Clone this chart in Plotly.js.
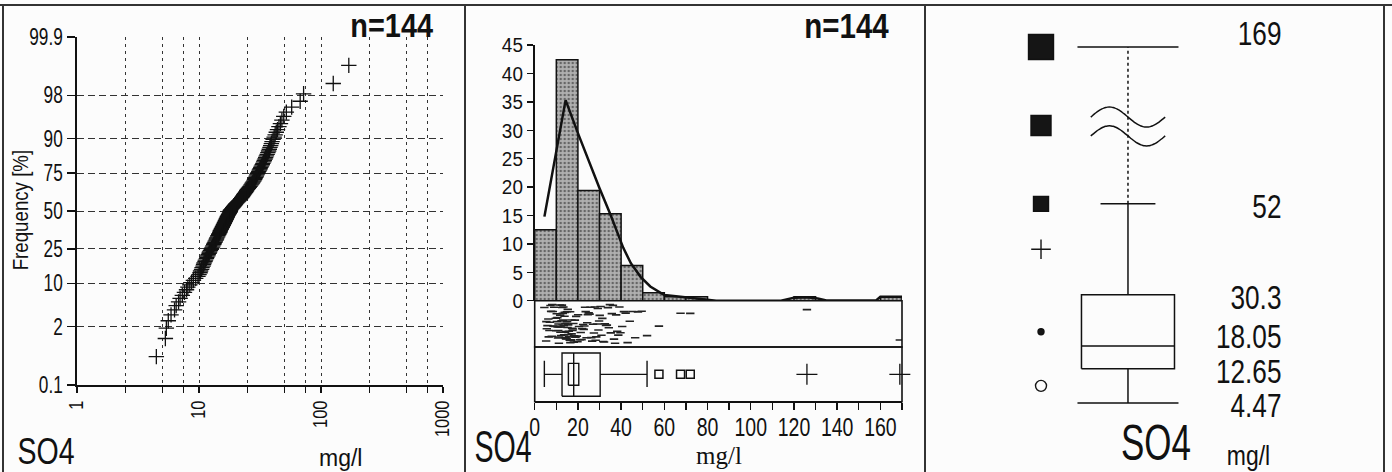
<!DOCTYPE html>
<html><head><meta charset="utf-8">
<script src="https://cdn.plot.ly/plotly-3.0.1.min.js"></script>
<style>html,body{margin:0;padding:0;background:#fcfcfc;}#chart{width:1392px;height:472px;}</style>
</head><body><div id="chart"></div>
<script>
// ---------------- DATA ----------------
// SO4 sample values (mg/l), sorted, n = 144
const so4Values = [
 4.47, 5.3, 5.4, 5.6, 5.9, 6.3, 6.5, 6.8, 7.0, 7.3, 7.6, 7.9, 8.1, 8.4, 8.7, 9.0, 9.4, 9.8,
 10.0, 10.2, 10.3, 10.5, 10.6, 10.8, 10.9, 11.0, 11.2, 11.3, 11.5, 11.6, 11.8, 11.9, 12.1, 12.2, 12.4, 12.6,
 12.7, 12.9, 13.0, 13.2, 13.3, 13.5, 13.6, 13.8, 13.9, 14.0, 14.2, 14.3, 14.5, 14.6, 14.8, 14.9, 15.0, 15.2,
 15.3, 15.5, 15.6, 15.8, 15.9, 16.1, 16.2, 16.4, 16.5, 16.7, 16.8, 17.0, 17.1, 17.3, 17.5, 17.7, 17.9, 18.0,
 18.1, 18.3, 18.6, 18.9, 19.2, 19.5, 19.8,
 20.1, 20.5, 20.9, 21.3, 21.7, 22.0, 22.4, 22.7, 23.0, 23.3, 23.6, 24.0, 24.3, 24.6, 25.0, 25.4, 25.8, 26.2,
 26.6, 27.0, 27.4, 27.8, 28.2, 28.5, 28.8, 29.2, 29.5, 29.8,
 30.1, 30.5, 30.9, 31.3, 31.7, 32.1, 32.5, 33.0, 33.4, 33.9, 34.3, 34.8, 35.2, 35.7, 36.2, 36.7, 37.2, 37.7,
 38.2, 38.7, 39.2, 39.7,
 40.5, 41.3, 42.1, 43.0, 44.0, 45.2, 46.5, 47.8, 49.5,
 52.0, 57.5, 67.5, 72.0, 126.0, 169.0
];
// histogram: bin starts (mg/l) and bar heights (%)
const histBinStart = [0, 10, 20, 30, 40, 50, 60, 70, 80, 90, 100, 110, 120, 130, 140, 150, 160];
const histBinWidth = 10;
const histPercent = [12.5, 42.4, 19.4, 15.3, 6.2, 1.4, 0.7, 0.7, 0, 0, 0, 0, 0.7, 0, 0, 0, 0.7];
// density curve
const densityX = [4.5, 14.3, 20, 25, 30, 35, 38, 41, 44.5, 49, 53.5, 60, 67.5, 75, 84, 90, 100, 114, 120, 126, 131, 135, 158, 160, 170];
const densityY = [14.8, 35.3, 29.5, 24.5, 19.8, 15.2, 12.4, 9.3, 6.6, 4.2, 2.5, 1.0, 0.7, 0.4, 0, 0, 0, 0, 0.5, 0.6, 0.4, 0.05, 0.05, 0.7, 0.7];
// box plot statistics
const statMin = 4.47, statQ1 = 12.65, statMedian = 18.05, statQ3 = 30.3, statUpperWhisker = 52, statMax = 169;
const statLabelValues = [169, 52, 30.3, 18.05, 12.65, 4.47];
const medianCI = [15.6, 20.4];
// axis ticks
const freqTicks = [0.1, 2, 10, 25, 50, 75, 90, 98, 99.9];
const logGrid = [1, 2.5, 5, 7.5, 10, 25, 50, 75, 100, 250, 500, 750, 1000];
const logLabels = ['1', '', '', '', '10', '', '', '', '100', '', '', '', '1000'];
const histXTicks = [0,10,20,30,40,50,60,70,80,90,100,110,120,130,140,150,160,170];
const histXLabels = ['0','','20','','40','','60','','80','','100','','120','','140','','160',''];

// ---------------- helpers ----------------
const W = 1392, H = 472;
const fx = px => px / W;
const fy = py => 1 - py / H;
const F = '"Liberation Sans", Arial, sans-serif';
const INK = '#111';

function probit(p) {
  const a = [-3.969683028665376e+01, 2.209460984245205e+02, -2.759285104469687e+02, 1.383577518672690e+02, -3.066479806614716e+01, 2.506628277459239e+00];
  const b = [-5.447609879822406e+01, 1.615858368580409e+02, -1.556989798598866e+02, 6.680131188771972e+01, -1.328068155922803e+01];
  const c = [-7.784894002430293e-03, -3.223964580411365e-01, -2.400758277161838e+00, -2.549732586814493e+00, 4.374664141464968e+00, 2.938163982698783e+00];
  const d = [7.784695709041462e-03, 3.224671290700398e-01, 2.445134137142996e+00, 3.754408661907416e+00];
  const pl = 0.02425;
  let q, r;
  if (p < pl) {
    q = Math.sqrt(-2 * Math.log(p));
    return (((((c[0]*q+c[1])*q+c[2])*q+c[3])*q+c[4])*q+c[5]) / ((((d[0]*q+d[1])*q+d[2])*q+d[3])*q+1);
  } else if (p <= 1 - pl) {
    q = p - 0.5; r = q * q;
    return (((((a[0]*r+a[1])*r+a[2])*r+a[3])*r+a[4])*r+a[5])*q / (((((b[0]*r+b[1])*r+b[2])*r+b[3])*r+b[4])*r+1);
  } else {
    q = Math.sqrt(-2 * Math.log(1 - p));
    return -(((((c[0]*q+c[1])*q+c[2])*q+c[3])*q+c[4])*q+c[5]) / ((((d[0]*q+d[1])*q+d[2])*q+d[3])*q+1);
  }
}
const n = so4Values.length;
// median-rank plotting positions (cumulative frequency %)
const cumFreq = so4Values.map((v, i) => (i + 1 - 0.3) / (n + 0.4) * 100);
const probY = cumFreq.map(f => probit(f / 100));
const zLo = probit(0.001), zHi = probit(0.999);

// broken axis for panel 3: values above the upper whisker are compressed
const BREAK_K = 0.32;
const disp = v => v <= statUpperWhisker ? v : statUpperWhisker + (v - statUpperWhisker) * BREAK_K;

const iqr = statQ3 - statQ1;
const nearOut = so4Values.filter(v => v > statUpperWhisker && v <= statQ3 + 3 * iqr);
const farOut = so4Values.filter(v => v > statQ3 + 3 * iqr);

// strip-plot vertical spread (deterministic hash, layout only)
const hash = i => { const v = Math.sin((i + 1) * 12.9898) * 43758.5453; return v - Math.floor(v); };
const stripY = so4Values.map((v, i) => 0.08 + 0.84 * hash(i));

const traces = [];
traces.push({type:'scatter', mode:'markers', x: so4Values, y: probY, xaxis:'x', yaxis:'y',
  marker:{symbol:'cross-thin-open', size:11, color:INK, opacity:1, line:{width:1.3, color:INK}}, hoverinfo:'skip'});

traces.push({type:'bar', x: histBinStart.map(s => s + histBinWidth / 2), y: histPercent, width: histBinWidth,
  xaxis:'x2', yaxis:'y2',
  marker:{color:'#a8a8a8', line:{color:INK, width:1.5},
    pattern:{shape:'.', fgcolor:'#666', bgcolor:'#b0b0b0', size:4, solidity:0.3}}, hoverinfo:'skip'});
traces.push({type:'scatter', mode:'lines', x: densityX, y: densityY, xaxis:'x2', yaxis:'y2',
  line:{color:INK, width:2.5}, hoverinfo:'skip'});
traces.push({type:'scatter', mode:'markers', x: so4Values, y: stripY, xaxis:'x2', yaxis:'y3',
  marker:{symbol:'line-ew', size:6, color:'#222', opacity:1, line:{width:1.6, color:'#222'}}, hoverinfo:'skip'});
const bLo = 0.10, bHi = 0.89, nLo = 0.30, nHi = 0.70, cLo = 0.27, cHi = 0.75, mid = 0.5;
traces.push({type:'scatter', mode:'lines', xaxis:'x2', yaxis:'y4', hoverinfo:'skip',
  line:{color:INK, width:1.4},
  x:[statQ1, statQ3, statQ3, statQ1, statQ1, null, statMedian, statMedian, null,
     medianCI[0], medianCI[1], medianCI[1], medianCI[0], medianCI[0], null,
     statMin, statQ1, null, statQ3, statUpperWhisker, null, statMin, statMin, null, statUpperWhisker, statUpperWhisker],
  y:[bLo, bLo, bHi, bHi, bLo, null, bLo, bHi, null,
     nLo, nLo, nHi, nHi, nLo, null,
     mid, mid, null, mid, mid, null, cLo, cHi, null, cLo, cHi]});
traces.push({type:'scatter', mode:'markers', x: nearOut, y: nearOut.map(() => mid), xaxis:'x2', yaxis:'y4',
  marker:{symbol:'square-open', size:8, color:INK, opacity:1, line:{width:1.5, color:INK}}, hoverinfo:'skip'});
traces.push({type:'scatter', mode:'markers', x: farOut, y: farOut.map(() => mid), xaxis:'x2', yaxis:'y4',
  marker:{symbol:'cross-thin-open', size:15, color:INK, opacity:1, line:{width:1.3, color:INK}}, hoverinfo:'skip', cliponaxis:false});

const capW = 1.086, capW52 = 0.59;
traces.push({type:'scatter', mode:'lines', xaxis:'x3', yaxis:'y5', hoverinfo:'skip',
  line:{color:INK, width:1.5},
  x:[-1, 1, 1, -1, -1, null, -1, 1, null, 0, 0, null, 0, 0, null, -capW, capW, null, -capW52, capW52, null, -capW, capW],
  y:[statQ1, statQ1, statQ3, statQ3, statQ1, null, statMedian, statMedian, null, statMin, statQ1, null,
     statQ3, statUpperWhisker, null, statMin, statMin, null, statUpperWhisker, statUpperWhisker, null, disp(statMax), disp(statMax)]});
traces.push({type:'scatter', mode:'lines', xaxis:'x3', yaxis:'y5', hoverinfo:'skip',
  line:{color:INK, width:1.5, dash:'3px,3px'},
  x:[0, 0], y:[disp(statUpperWhisker), disp(statMax)]});
const breakMid = disp((statUpperWhisker + statMax) / 2);
[2.0, -2.5].forEach(off => {
  const wx = [], wy = [];
  for (let k = 0; k <= 40; k++) { const t = k / 40; wx.push(-0.80 + 1.6 * t); wy.push(breakMid + off + 2.4 * Math.sin(2 * Math.PI * t)); }
  traces.push({type:'scatter', mode:'lines', x: wx, y: wy, xaxis:'x3', yaxis:'y5', hoverinfo:'skip',
    line:{color:INK, width:1.5, shape:'spline'}});
});
const symLevels = [disp(statMax), breakMid, disp(statUpperWhisker), (statQ3 + statUpperWhisker) / 2, (statQ1 + statQ3) / 2, (statMin + statQ1) / 2];
const symX = -1.87;
traces.push({type:'scatter', mode:'markers', xaxis:'x3', yaxis:'y5', hoverinfo:'skip', cliponaxis:false,
  x: symLevels.map(() => symX), y: symLevels,
  marker:{symbol:['square','square','square','cross-thin-open','circle','circle-open'],
    size:[25, 20, 15, 14, 6, 11], color:'#151515', opacity:1, line:{width:1.4, color:INK}}});
traces.push({type:'scatter', mode:'text', xaxis:'x3', yaxis:'y5', hoverinfo:'skip', cliponaxis:false,
  x: statLabelValues.map(() => 3.30), y: statLabelValues.map(disp),
  text: statLabelValues.map(String),
  textposition:['top left','middle left','middle left','top left','middle left','middle left'],
  textfont:{family:F, size:34, color:INK}});

const axisFont = s => ({family:F, size:s, color:INK});
const ann = (x, y, text, size, extra) => Object.assign({xref:'paper', yref:'paper', x:fx(x), y:fy(y), text, showarrow:false,
  xanchor:'center', yanchor:'middle', font:{family:F, size, color:INK}}, extra || {});
const layout = {
  width: W, height: H, margin:{l:0, r:0, t:0, b:0}, autosize:false,
  paper_bgcolor:'#fcfcfc', plot_bgcolor:'rgba(0,0,0,0)', showlegend:false,
  xaxis:{domain:[fx(77), fx(443)], type:'log', range:[0, 3], anchor:'y',
    tickmode:'array', tickvals: logGrid, ticktext: logLabels, tickangle:-90,
    ticks:'outside', ticklen:6, tickwidth:1.2, tickcolor:INK,
    showline:true, linecolor:INK, linewidth:1.6,
    showgrid:true, gridcolor:'#333', gridwidth:1, griddash:'3px,4px', zeroline:false,
    tickfont: axisFont(20), fixedrange:true},
  yaxis:{domain:[fy(385), fy(37)], range:[zLo, zHi], anchor:'x',
    tickmode:'array', tickvals: freqTicks.map(f => probit(f / 100)), ticktext: freqTicks.map(String),
    ticks:'outside', ticklen:8, tickwidth:1.2, tickcolor:INK,
    showline:true, linecolor:INK, linewidth:1.6,
    showgrid:true, gridcolor:'#333', gridwidth:1, griddash:'7px,4px', zeroline:false,
    tickfont: axisFont(23), fixedrange:true},
  xaxis2:{domain:[fx(534.7), fx(902)], range:[0, 170], anchor:'y4',
    tickmode:'array', tickvals: histXTicks, ticktext: histXLabels, tickangle:0,
    ticks:'outside', ticklen:7, tickwidth:1.4, tickcolor:INK,
    showline:true, linecolor:INK, linewidth:1.6, showgrid:false, zeroline:false,
    tickfont: axisFont(26), fixedrange:true},
  yaxis2:{domain:[fy(300.7), fy(45)], range:[0, 45], anchor:'x2', dtick:5, tick0:0,
    ticks:'outside', ticklen:6, tickwidth:1.4, tickcolor:INK,
    showline:true, linecolor:INK, linewidth:1.6, showgrid:false, zeroline:false,
    tickfont: axisFont(21), fixedrange:true},
  yaxis3:{domain:[fy(347), fy(300.7)], range:[0, 1], anchor:'x2', visible:false, fixedrange:true},
  yaxis4:{domain:[fy(401.7), fy(347)], range:[0, 1], anchor:'x2', visible:false, fixedrange:true},
  xaxis3:{domain:[fx(928), fx(1384)], range:[-4.30, 5.505], anchor:'y5', visible:false, fixedrange:true},
  yaxis5:{domain:[fy(420), fy(30)], range:[0.41, 93.5], anchor:'x3', visible:false, fixedrange:true},
  shapes:[
    {type:'line', xref:'paper', yref:'paper', x0:0, x1:1, y0:fy(5), y1:fy(5), line:{color:'#333', width:2}},
    {type:'line', xref:'paper', yref:'paper', x0:fx(3), x1:fx(3), y0:fy(5), y1:0, line:{color:'#333', width:2}},
    {type:'line', xref:'paper', yref:'paper', x0:fx(465), x1:fx(465), y0:fy(5), y1:0, line:{color:'#333', width:2}},
    {type:'line', xref:'paper', yref:'paper', x0:fx(925), x1:fx(925), y0:fy(5), y1:0, line:{color:'#333', width:2}},
    {type:'line', xref:'paper', yref:'paper', x0:fx(1384), x1:fx(1384), y0:fy(5), y1:0, line:{color:'#333', width:2}},
    {type:'rect', xref:'x2 domain', yref:'y3 domain', x0:0, x1:1, y0:0, y1:1, line:{color:INK, width:1.6}},
    {type:'rect', xref:'x2 domain', yref:'y4 domain', x0:0, x1:1, y0:0, y1:1, line:{color:INK, width:1.6}}
  ],
  annotations:[
    ann(391, 25, '<b>n=144</b>', 34),
    ann(846, 26, '<b>n=144</b>', 36),
    ann(21, 210, 'Frequency [%]', 22, {textangle:-90}),
    ann(46.5, 451, 'SO4', 37),
    ann(340, 458, 'mg/l', 23),
    ann(503, 446, 'SO4', 44),
    ann(719, 455, 'mg/l', 25, {font:{family:'"Liberation Serif", "Times New Roman", serif', size:25, color:INK}}),
    ann(1156, 443, 'SO4', 50),
    ann(1248, 456, 'mg/l', 27)
  ]
};
// horizontal condensing of the narrow typeface used in the original
const tickScale = {xtick:[0.82, 0], ytick:[0.75, 0], x2tick:[0.75, -5], y2tick:[0.9, 0]};
const annScale = [0.85, 0.82, 0.85, 0.77, 1.0, 0.65, 1.0, 0.7, 0.85];
const labelShift = [6, 6, 6, 10, 6, 6];
function squeeze(t, s, dy) {
  if (!t) return;
  const x = parseFloat(t.getAttribute('x')) || 0, y = parseFloat(t.getAttribute('y')) || 0;
  const tr = t.getAttribute('transform') || '';
  t.setAttribute('transform', tr + ` translate(0,${dy || 0}) translate(${x},${y}) scale(${s},1) translate(${-x},${-y})`);
}
Plotly.newPlot('chart', traces, layout, {staticPlot:true, displayModeBar:false}).then(gd => {
  Object.keys(tickScale).forEach(k => gd.querySelectorAll('g.' + k + ' text').forEach(t => squeeze(t, tickScale[k][0], tickScale[k][1])));
  gd.querySelectorAll('g.annotation').forEach(g => {
    const i = +g.getAttribute('data-index');
    squeeze(g.querySelector('text'), annScale[i]);
  });
  gd.querySelectorAll('g.textpoint text').forEach((t, i) => squeeze(t, 0.77, labelShift[i] || 6));
});
</script></body></html>
